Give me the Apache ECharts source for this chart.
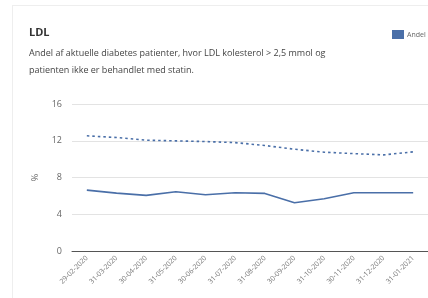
<!DOCTYPE html>
<html>
<head>
<meta charset="utf-8">
<script src="https://cdn.jsdelivr.net/npm/echarts@6/dist/echarts.min.js"></script>
<style>
html,body{margin:0;padding:0;background:#fff;}
#card{position:absolute;left:12px;top:5px;width:430px;height:310px;border:1px solid #eeeeee;box-sizing:border-box;}
#chart{position:absolute;left:0;top:0;width:428px;height:298px;}
</style>
</head>
<body>
<div id="card"></div>
<div id="chart"></div>
<script>
const categories = ['29-02-2020','31-03-2020','30-04-2020','31-05-2020','30-06-2020','31-07-2020','31-08-2020','30-09-2020','31-10-2020','30-11-2020','31-12-2020','31-01-2021'];
const andel = [6.63, 6.30, 6.05, 6.45, 6.13, 6.34, 6.27, 5.25, 5.69, 6.34, 6.34, 6.34];
const reference = [12.54, 12.35, 12.06, 11.99, 11.91, 11.80, 11.48, 11.08, 10.75, 10.60, 10.46, 10.79];
const yTicks = [0, 4, 8, 12, 16];

const chart = echarts.init(document.getElementById('chart'), null, {renderer:'canvas'});
const font = '"Open Sans", sans-serif';
chart.setOption({
  animation: false,
  textStyle: {fontFamily: font},
  title: [
    {text: 'LDL', left: 24, top: 22, textStyle: {fontFamily: font, fontSize: 11, fontWeight: 'bold', color: '#333'}},
    {text: 'Andel af aktuelle diabetes patienter, hvor LDL kolesterol > 2,5 mmol og\npatienten ikke er behandlet med statin.', left: 24, top: 40,
     textStyle: {fontFamily: font, fontSize: 9, fontWeight: 'normal', color: '#444', lineHeight: 17}}
  ],
  legend: {data: ['Andel'], left: 387, top: 25, itemWidth: 12, itemHeight: 9, itemGap: 3,
    icon: 'rect', textStyle: {fontFamily: font, fontSize: 7, color: '#666', padding: [0,0,0,-2]}},
  grid: {left: 72, top: 104, width: 360, height: 147},
  xAxis: {
    type: 'category', data: categories, boundaryGap: true,
    axisLine: {lineStyle: {color: '#555', width: 1}},
    axisTick: {show: false},
    axisLabel: {rotate: 45, fontSize: 7, color: '#777', margin: 6, fontFamily: font}
  },
  yAxis: {
    type: 'value', min: yTicks[0], max: yTicks[yTicks.length-1], interval: 4,
    name: '%', nameLocation: 'middle', nameRotate: 90, nameGap: 32,
    nameTextStyle: {fontSize: 9, color: '#666', fontFamily: font},
    axisLine: {show: false}, axisTick: {show: false},
    axisLabel: {fontSize: 9, color: '#666', margin: 10, fontFamily: font},
    splitLine: {lineStyle: {color: '#e3e3e3', width: 1}}
  },
  series: [
    {name: 'Andel', type: 'line', data: andel, symbol: 'none',
     itemStyle: {color: '#4a6fa8'}, lineStyle: {color: '#4a6fa8', width: 1.6}},
    {name: 'Reference', type: 'line', data: reference, symbol: 'none',
     itemStyle: {color: '#4a6fa8'}, lineStyle: {color: '#4a6fa8', width: 1.6, type: [2.5, 3]}}
  ]
});
</script>
</body>
</html>
